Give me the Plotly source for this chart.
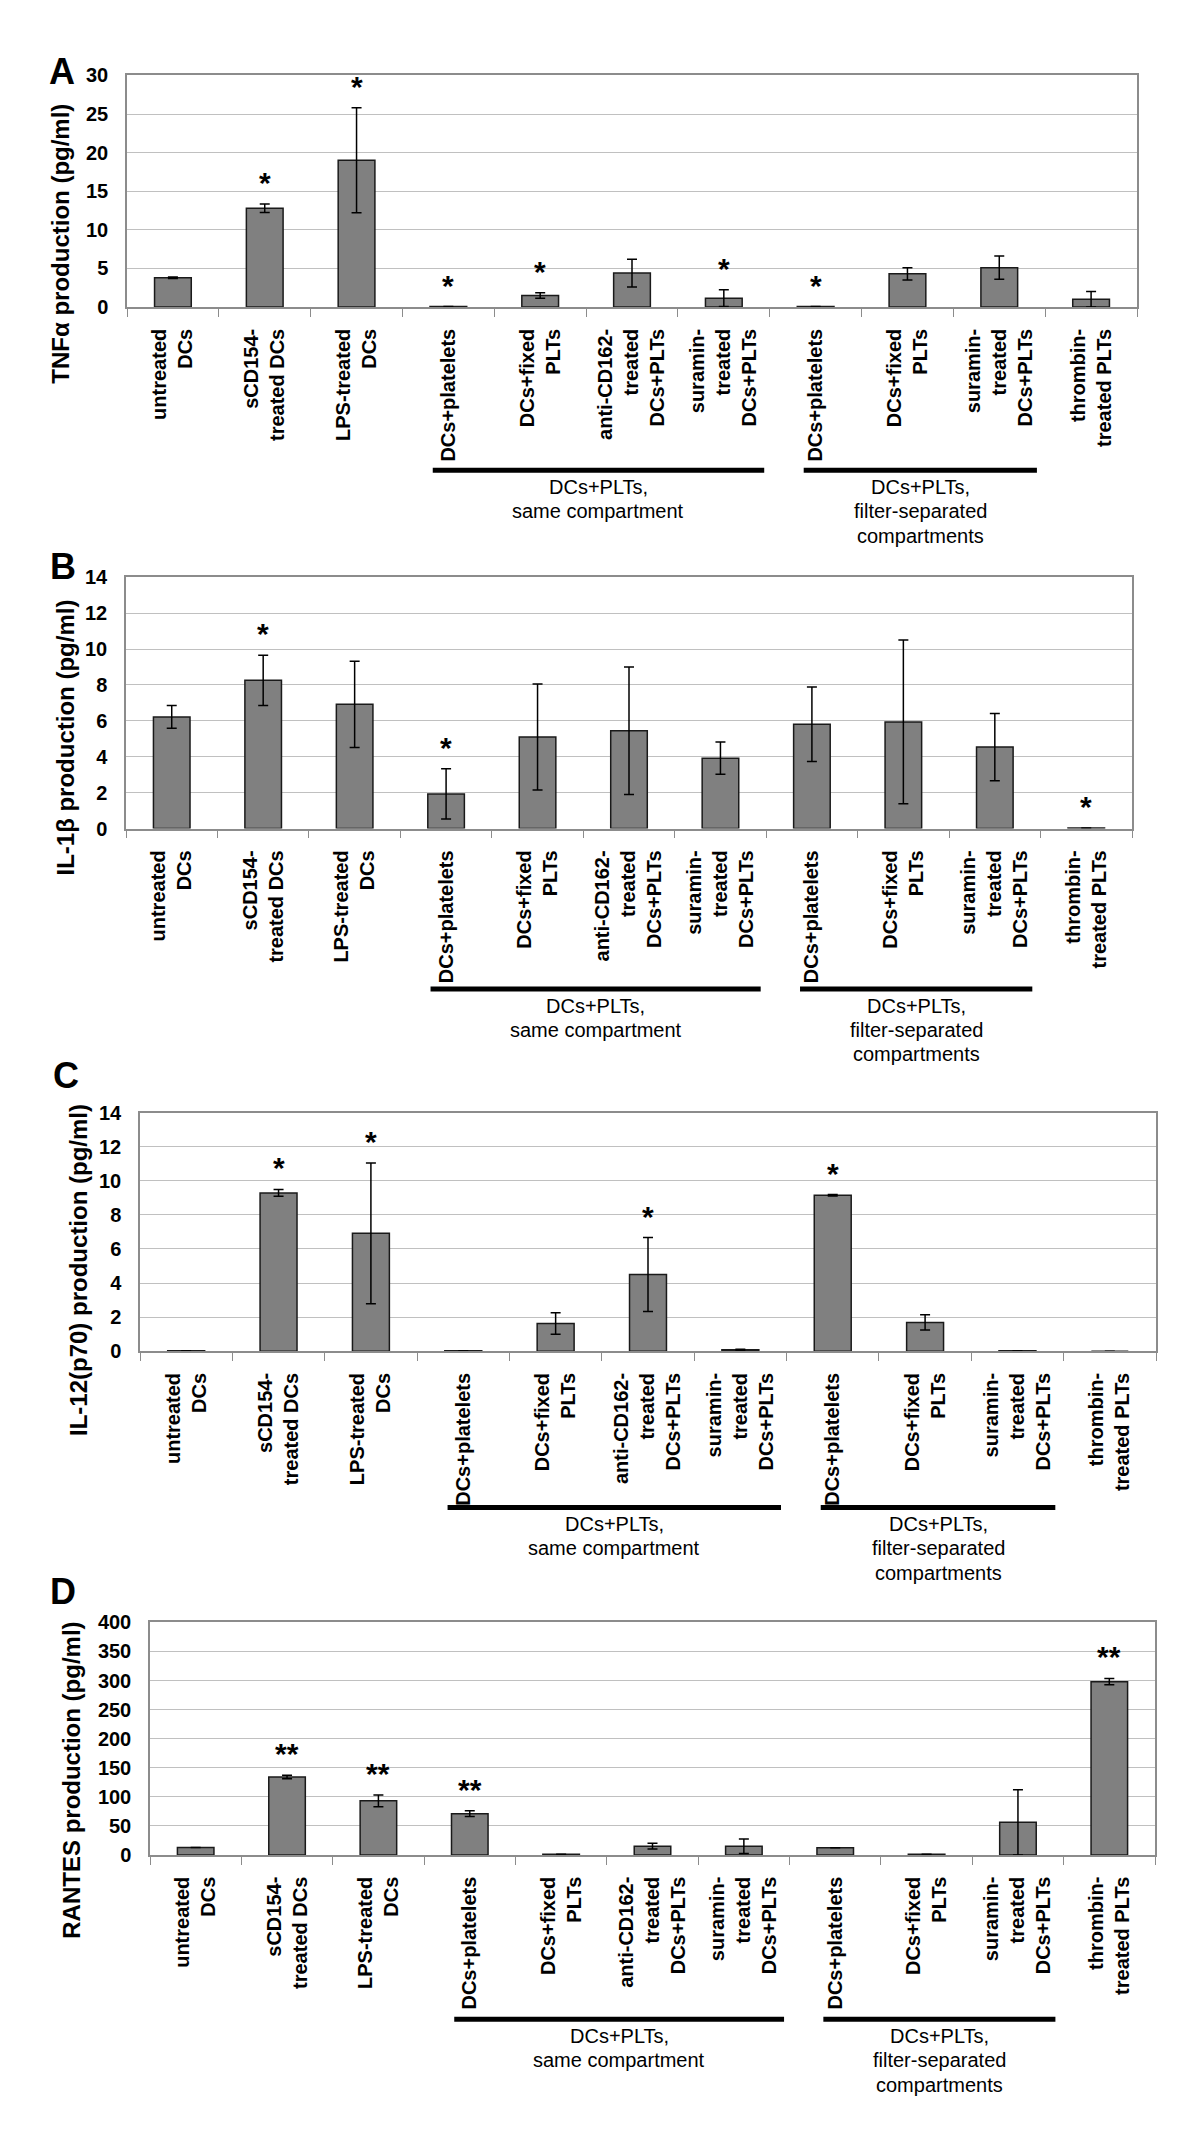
import plotly.graph_objects as go

FIG_W, FIG_H = 1200, 2141
PAGE_OFFSET = 8  # default body margin of the html page

# ---------------- data ----------------
categories = [
    "untreated<br>DCs",
    "sCD154-<br>treated DCs",
    "LPS-treated<br>DCs",
    "DCs+platelets",
    "DCs+fixed<br>PLTs",
    "anti-CD162-<br>treated<br>DCs+PLTs",
    "suramin-<br>treated<br>DCs+PLTs",
    "DCs+platelets",
    "DCs+fixed<br>PLTs",
    "suramin-<br>treated<br>DCs+PLTs",
    "thrombin-<br>treated PLTs",
]

tnf_mean = [3.8, 12.8, 19.0, 0.05, 1.5, 4.4, 1.15, 0.05, 4.3, 5.1, 1.0]
tnf_err = [0.1, 0.55, 6.8, None, 0.35, 1.8, 1.1, None, 0.8, 1.5, 1.0]
tnf_sig = ["", "*", "*", "*", "*", "", "*", "*", "", "", ""]

il1b_mean = [6.22, 8.26, 6.92, 1.93, 5.1, 5.45, 3.92, 5.81, 5.94, 4.54, 0.03]
il1b_err = [0.63, 1.4, 2.4, 1.4, 2.95, 3.55, 0.9, 2.07, 4.56, 1.87, None]
il1b_sig = ["", "*", "", "*", "", "", "", "", "", "", "*"]

il12_mean = [0.02, 9.29, 6.92, 0.02, 1.63, 4.5, 0.08, 9.15, 1.69, 0.02, 0.0]
il12_err = [None, 0.2, 4.13, None, 0.63, 2.17, 0.03, 0.04, 0.45, None, None]
il12_sig = ["", "*", "*", "", "", "*", "", "*", "", "", ""]

rantes_mean = [13, 134, 93, 71, 1, 15, 15, 12.5, 1, 56, 298]
rantes_err = [None, 3, 10, 5, None, 5, 12.5, None, None, 56, 5.5]
rantes_sig = ["", "**", "**", "**", "", "", "", "", "", "", "**"]

y_titles = ["TNFα production (pg/ml)", "IL-1β production (pg/ml)",
            "IL-12(p70) production (pg/ml)", "RANTES production (pg/ml)"]
panel_letters = ["A", "B", "C", "D"]
y_max = [30, 14, 14, 400]
y_dtick = [5, 2, 2, 50]

group_names = [["DCs+PLTs,", "same compartment"],
               ["DCs+PLTs,", "filter-separated", "compartments"]]
group_spans = [[2.83, 6.44], [6.87, 9.41]]

means = [tnf_mean, il1b_mean, il12_mean, rantes_mean]
errs = [tnf_err, il1b_err, il12_err, rantes_err]
sigs = [tnf_sig, il1b_sig, il12_sig, rantes_sig]

# ---------------- layout (screen pixels) ----------------
boxes = [(127, 1137, 65, 299), (126, 1132, 572, 826),
         (140, 1156, 1113, 1354), (150, 1155, 1628, 1863)]
title_pos = [(61, 235), (66, 734), (78, 1272), (72, 1788)]
letter_pos = [(62, 61), (63, 561), (66, 1075), (63, 1597)]
bracket_y = [464, 988, 1512, 2029]
text_offsets = [17, 41, 66]

FONT = "Liberation Sans, Arial, sans-serif"
NARROW = "Liberation Sans Narrow, Arial Narrow, Liberation Sans, sans-serif"
FRAME = "#8c8c8c"
GRID = "#c0c0c0"


def px(x):
    return (x - PAGE_OFFSET) / FIG_W


def py(y):
    return 1 - (y - PAGE_OFFSET) / FIG_H


fig = go.Figure()
annotations = []
shapes = []
xs = list(range(len(categories)))

for p in range(4):
    sfx = "" if p == 0 else str(p + 1)
    xa, ya = "x" + sfx, "y" + sfx
    l, r, t, b = boxes[p]

    fig.add_trace(go.Bar(
        x=xs, y=means[p], width=0.4,
        marker=dict(color="#808080", line=dict(color="#1a1a1a", width=1.5)),
        error_y=dict(type="data", array=errs[p], visible=True,
                     color="black", thickness=1.5, width=5),
        xaxis=xa, yaxis=ya, hoverinfo="skip",
    ))

    axis_common = dict(showline=True, linecolor=FRAME, linewidth=1.5, mirror=True)
    fig.layout["xaxis" + sfx] = dict(
        domain=[px(l), px(r)], anchor=ya, range=[-0.5, len(categories) - 0.5],
        tickmode="array", tickvals=xs, ticktext=categories, tickangle=-90,
        ticks="", ticklabelstandoff=12, showgrid=False, zeroline=False,
        tickfont=dict(family=FONT, size=20, color="black", weight="bold"),
        minor=dict(tickmode="array", tickvals=[k - 0.5 for k in range(len(categories) + 1)],
                   ticks="outside", ticklen=8, tickcolor=FRAME, tickwidth=1, showgrid=False),
        fixedrange=True, **axis_common)
    fig.layout["yaxis" + sfx] = dict(
        domain=[py(b), py(t)], anchor=xa, range=[0, y_max[p]], dtick=y_dtick[p],
        showgrid=True, gridcolor=GRID, gridwidth=1.2, zeroline=False,
        ticks="", ticklabelstandoff=13,
        tickfont=dict(family=FONT, size=20, color="black", weight="bold"),
        fixedrange=True, **axis_common)

    # significance stars
    for i, s in enumerate(sigs[p]):
        if s:
            top = means[p][i] + (errs[p][i] or 0)
            annotations.append(dict(
                x=i, y=top, xref=xa, yref=ya, text=s, showarrow=False,
                xanchor="center", yanchor="bottom", yshift=3,
                font=dict(family=FONT, size=30, color="black", weight="bold")))

    # y-axis title
    tx, ty = title_pos[p]
    annotations.append(dict(
        x=px(tx), y=py(ty), xref="paper", yref="paper", text=y_titles[p],
        textangle=-90, showarrow=False, xanchor="center", yanchor="middle",
        font=dict(family=FONT, size=24, color="black", weight="bold")))

    # panel letter
    lx, ly = letter_pos[p]
    annotations.append(dict(
        x=px(lx), y=py(ly), xref="paper", yref="paper", text=panel_letters[p],
        showarrow=False, xanchor="center", yanchor="middle",
        font=dict(family=FONT, size=36, color="black", weight="bold")))

    # group brackets
    for g, (x0, x1) in enumerate(group_spans):
        shapes.append(dict(type="line", xref=xa, yref="paper",
                           x0=x0, x1=x1, y0=py(bracket_y[p]), y1=py(bracket_y[p]),
                           line=dict(color="black", width=5)))
        for k, line in enumerate(group_names[g]):
            annotations.append(dict(
                x=(x0 + x1) / 2, y=py(bracket_y[p] + text_offsets[k]),
                xref=xa, yref="paper", text=line, showarrow=False,
                xanchor="center", yanchor="middle",
                font=dict(family=NARROW, size=20, color="black")))

fig.update_layout(
    width=FIG_W, height=FIG_H,
    margin=dict(l=0, r=0, t=0, b=0),
    paper_bgcolor="white", plot_bgcolor="white",
    showlegend=False, bargap=0.6,
    annotations=annotations, shapes=shapes,
)

fig.write_html("out.html")
